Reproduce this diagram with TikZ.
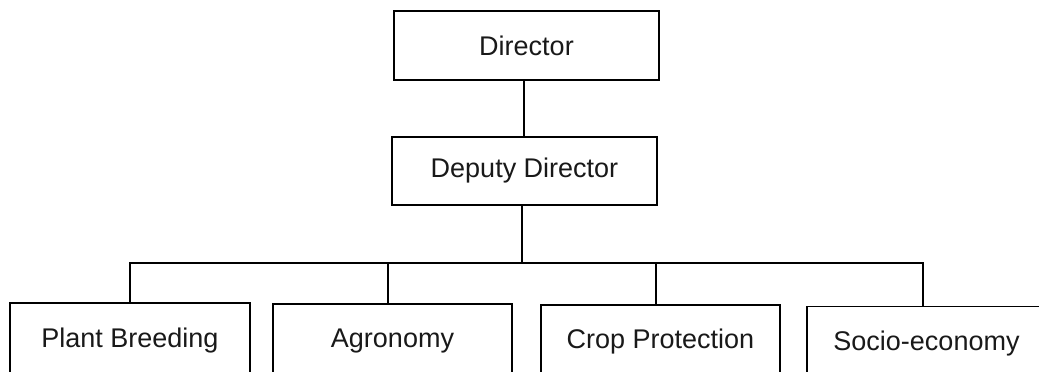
\documentclass[tikz,border=0pt]{standalone}
\usepackage{fontspec}
\setmainfont{Liberation Sans}
\begin{document}
\begin{tikzpicture}[x=1pt,y=-1pt,
  orgbox/.style={draw=black,line width=1.8pt,fill=white,inner sep=0pt,
    font=\fontsize{27}{32}\selectfont,text=black!90},
  link/.style={draw=black,line width=1.8pt}]
\useasboundingbox (0,0) rectangle (1039,372);
\clip (0,0) rectangle (1039,372);
% management
\node[orgbox,minimum width=265pt,minimum height=69pt] (dir) at (526.5,45.5) {Director};
\node[orgbox,minimum width=265pt,minimum height=68pt] (dep) at (524.5,171) {Deputy Director};
% departments (boxes run past the lower edge)
\node[orgbox,minimum width=240pt,minimum height=75pt] (pb) at (130,340.5) {Plant Breeding};
\node[orgbox,minimum width=239pt,minimum height=74pt] (ag) at (392.5,341) {Agronomy};
\node[orgbox,minimum width=239pt,minimum height=74pt] (cp) at (660.5,342) {Crop Protection};
\node[orgbox,minimum width=239pt,minimum height=74pt] (se) at (926.5,343.5) {Socio-economy};
% connectors
\coordinate (bus) at (0,263);
\coordinate (agdrop) at ([xshift=-4.5pt]ag.north);
\coordinate (cpdrop) at ([xshift=-4.5pt]cp.north);
\coordinate (sedrop) at ([xshift=-3.5pt]se.north);
\draw[link] ([xshift=-2.5pt]dir.south) -- ([xshift=-0.5pt]dep.north);
\draw[link] ([xshift=-2.5pt]dep.south) -- ([xshift=-2.5pt]dep.south |- bus);
\draw[link] (pb.north) -- (pb.north |- bus) -- (sedrop |- bus) -- (sedrop);
\draw[link] (agdrop |- bus) -- (agdrop);
\draw[link] (cpdrop |- bus) -- (cpdrop);
\end{tikzpicture}
\end{document}
